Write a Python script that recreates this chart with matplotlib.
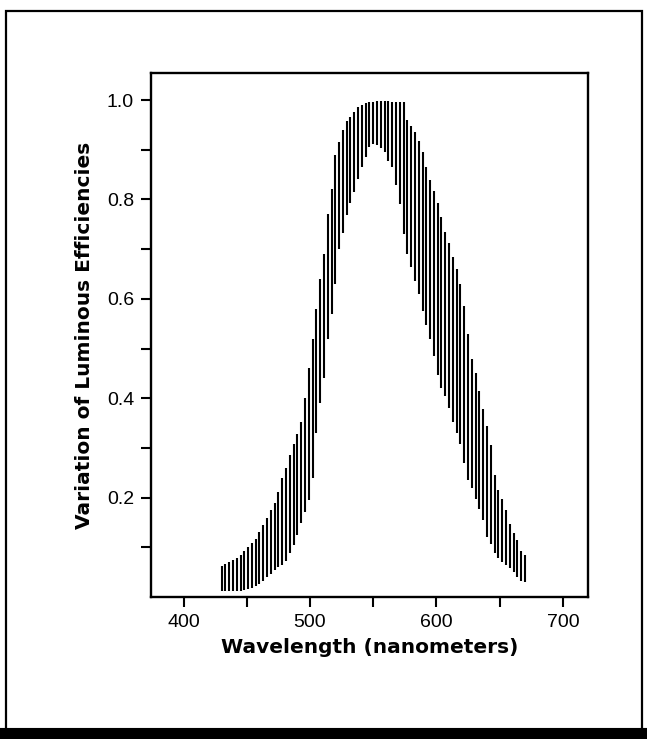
import numpy as np
import matplotlib
matplotlib.use("Agg")
import matplotlib.pyplot as plt
from matplotlib.patches import Rectangle
from matplotlib.lines import Line2D

plt.rcParams['font.family'] = ['Liberation Sans', 'DejaVu Sans']

# wavelength of each measurement (nm)
wavelength = [430, 433, 436, 439, 442, 445, 448, 451, 454, 457,
              460, 463, 466, 469, 472, 475, 478, 481, 484, 487,
              490, 493, 496, 499, 502, 505, 508, 511, 514, 517,
              520, 523, 526, 529, 532, 535, 538, 541, 544, 547,
              550, 553, 556, 559, 562, 565, 568, 571, 574, 577,
              580, 583, 586, 589, 592, 595, 598, 601, 604, 607,
              610, 613, 616, 619, 622, 625, 628, 631, 634, 637,
              640, 643, 646, 649, 652, 655, 658, 661, 664, 667, 670]

# upper end of the observed range
eff_high = [0.062, 0.066, 0.070, 0.075, 0.079, 0.085, 0.092, 0.100, 0.108, 0.117,
            0.130, 0.145, 0.160, 0.175, 0.190, 0.212, 0.240, 0.260, 0.285, 0.308,
            0.328, 0.353, 0.400, 0.460, 0.520, 0.580, 0.640, 0.690, 0.770, 0.820,
            0.890, 0.915, 0.940, 0.957, 0.966, 0.975, 0.985, 0.990, 0.994, 0.995,
            0.996, 0.997, 0.997, 0.997, 0.997, 0.996, 0.996, 0.995, 0.995, 0.960,
            0.948, 0.935, 0.918, 0.895, 0.866, 0.840, 0.817, 0.792, 0.765, 0.735,
            0.713, 0.685, 0.660, 0.630, 0.585, 0.530, 0.478, 0.450, 0.415, 0.378,
            0.345, 0.305, 0.245, 0.215, 0.198, 0.175, 0.148, 0.128, 0.115, 0.093, 0.084]

# lower end of the observed range
eff_low = [0.013, 0.013, 0.013, 0.013, 0.013, 0.013, 0.014, 0.016, 0.018, 0.022,
           0.027, 0.033, 0.040, 0.047, 0.054, 0.060, 0.064, 0.072, 0.088, 0.105,
           0.125, 0.150, 0.172, 0.195, 0.240, 0.330, 0.390, 0.440, 0.520, 0.570,
           0.630, 0.700, 0.732, 0.768, 0.792, 0.815, 0.842, 0.865, 0.885, 0.905,
           0.912, 0.910, 0.904, 0.895, 0.878, 0.865, 0.830, 0.790, 0.730, 0.690,
           0.665, 0.635, 0.610, 0.575, 0.548, 0.520, 0.485, 0.447, 0.420, 0.405,
           0.380, 0.352, 0.330, 0.308, 0.270, 0.235, 0.220, 0.197, 0.178, 0.155,
           0.120, 0.106, 0.088, 0.078, 0.071, 0.064, 0.059, 0.050, 0.040, 0.033, 0.030]

x_ticks = [400, 450, 500, 550, 600, 650, 700]
x_labels = ['400', '', '500', '', '600', '', '700']
y_ticks = [0.1, 0.2, 0.3, 0.4, 0.5, 0.6, 0.7, 0.8, 0.9, 1.0]
y_labels = ['', '0.2', '', '0.4', '', '0.6', '', '0.8', '', '1.0']

fig = plt.figure(figsize=(6.47, 7.39), dpi=100)
ax = fig.add_axes([0.233, 0.192, 0.676, 0.709])

ax.vlines(wavelength, eff_low, eff_high, colors='black', linewidth=1.5)

ax.set_xlim(374, 720)
ax.set_ylim(0, 1.054)
ax.set_xticks(x_ticks)
ax.set_xticklabels(x_labels)
ax.set_yticks(y_ticks)
ax.set_yticklabels(y_labels)
ax.tick_params(direction='out', length=7, width=1.5, labelsize=14, pad=5)
for s in ax.spines.values():
    s.set_linewidth(1.7)

heavy = dict(family=['DejaVu Sans'], fontweight='bold')
ax.set_xlabel('Wavelength (nanometers)', fontsize=14.5, labelpad=5, **heavy)
ax.set_ylabel('Variation of Luminous Efficiencies', fontsize=14.5, labelpad=9, **heavy)

# page frame with heavy bottom edge
fig.add_artist(Rectangle((0.009, 0.012), 0.983, 0.973, transform=fig.transFigure,
                         fill=False, edgecolor='black', linewidth=1.6))
fig.add_artist(Line2D([0.0, 1.0], [0.008, 0.008], transform=fig.transFigure,
                      color='black', linewidth=8))

fig.savefig('out.png', dpi=100)
